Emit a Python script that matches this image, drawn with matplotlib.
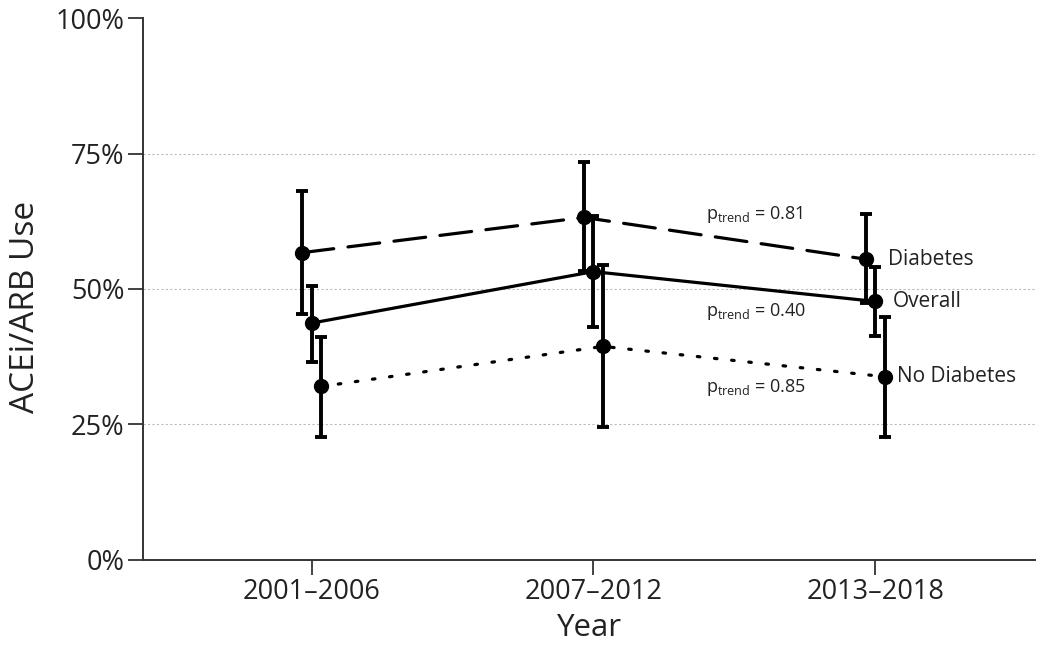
import numpy as np
import matplotlib.pyplot as plt
from matplotlib.ticker import PercentFormatter

plt.rcParams["font.family"] = ["Open Sans", "DejaVu Sans"]
plt.rcParams["mathtext.fontset"] = "custom"
plt.rcParams["mathtext.rm"] = "Open Sans"

periods = ["2001\u20132006", "2007\u20132012", "2013\u20132018"]

# estimates, lower and upper bounds (%)
diab = [56.7, 63.2, 55.5]
diab_lo = [45.3, 53.3, 47.4]
diab_hi = [68.1, 73.5, 63.8]

overall = [43.7, 53.2, 47.7]
overall_lo = [36.5, 42.9, 41.3]
overall_hi = [50.6, 63.5, 54.0]

nodiab = [32.0, 39.4, 33.8]
nodiab_lo = [22.6, 24.5, 22.7]
nodiab_hi = [41.2, 54.4, 44.9]

p_trend = {"Diabetes": "0.81", "Overall": "0.40", "No Diabetes": "0.85"}

series = [
    ("Diabetes", diab, diab_lo, diab_hi, -0.034, (0, (10, 4.5))),
    ("Overall", overall, overall_lo, overall_hi, 0.0, "-"),
    ("No Diabetes", nodiab, nodiab_lo, nodiab_hi, 0.034, (0, (0.8, 4.6))),
]

fig = plt.figure(figsize=(10.5, 6.45), dpi=100)
ax = fig.add_axes([0.136, 0.132, 0.85, 0.84])

x = np.arange(1, len(periods) + 1)
for name, vals, lo, hi, dx, ls in series:
    vals = np.array(vals)
    err = [vals - np.array(lo), np.array(hi) - vals]
    ax.plot(x + dx, vals, color="black", lw=2.3, linestyle=ls,
            dash_capstyle="round", zorder=2)
    ax.errorbar(x + dx, vals, yerr=err, fmt="o", color="black", ms=10,
                elinewidth=2.8, capsize=4.5, capthick=2.8, zorder=3)
    ax.text(x[-1] + dx * 0.5 + 0.062, vals[-1], name, fontsize=15,
            va="center", ha="left", color="#222222")

# p-trend labels placed between second and third periods
for name, yv in [("Diabetes", 63.8), ("Overall", 45.8), ("No Diabetes", 31.9)]:
    ax.text(2.40, yv, "p$_{\\mathrm{trend}}$ = " + p_trend[name],
            fontsize=13, va="center", ha="left", color="#222222")

for g in [25, 50, 75]:
    ax.axhline(g, color="#bbbbbb", lw=0.8, ls=(0, (2, 2)), zorder=0)

ax.set_xlim(0.401, 3.568)
ax.set_ylim(0, 100)
ax.set_xticks(x)
ax.set_xticklabels(periods)
ax.set_yticks([0, 25, 50, 75, 100])
ax.yaxis.set_major_formatter(PercentFormatter(decimals=0))
ax.tick_params(labelsize=19.5, length=11, width=1.3, color="#333333",
               labelcolor="#222222")
ax.tick_params(axis="x", pad=2)
ax.tick_params(axis="y", pad=2)
ax.set_xlabel("Year", fontsize=22.5, color="#222222", labelpad=5)
ax.set_ylabel("ACEi/ARB Use", fontsize=24, color="#222222")
ax.yaxis.set_label_coords(-0.113, 0.467)

for s in ["top", "right"]:
    ax.spines[s].set_visible(False)
for s in ["left", "bottom"]:
    ax.spines[s].set_linewidth(1.4)
    ax.spines[s].set_color("#333333")

fig.savefig("out.png", dpi=100)
